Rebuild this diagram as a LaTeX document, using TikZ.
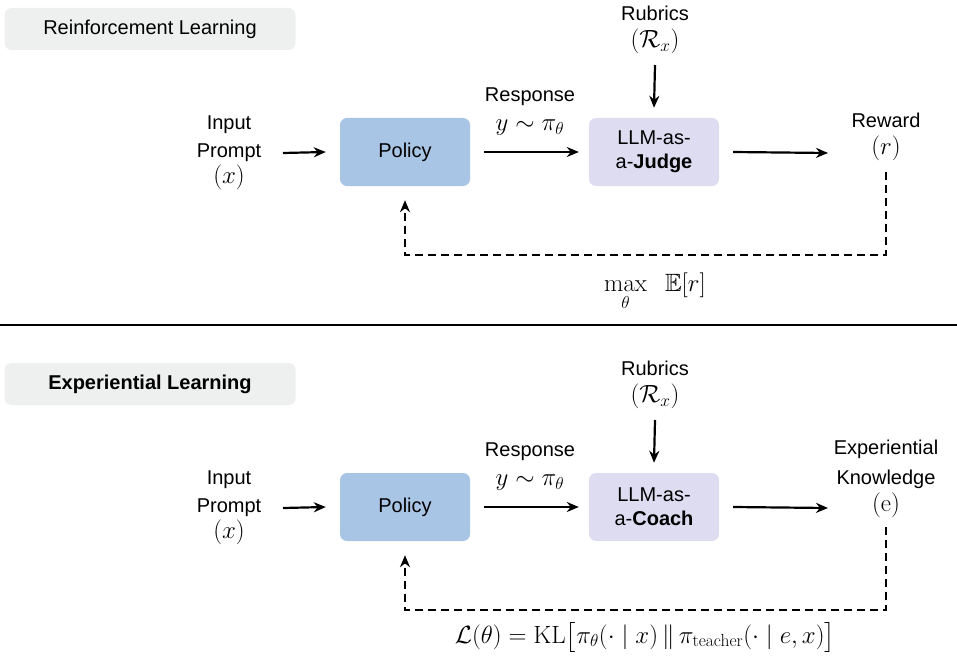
\documentclass[tikz,border=0pt]{standalone}
\usepackage{amsmath,amssymb}
\usepackage{fontspec}
\setmainfont{Liberation Sans}
\newfontfamily\lmr{Latin Modern Roman}
\newcommand{\mbig}{\fontsize{25}{28}\selectfont}
\usetikzlibrary{arrows.meta}
\definecolor{pblue}{HTML}{A9C5E6}
\definecolor{jlav}{HTML}{DDDCF1}
\definecolor{tagg}{HTML}{EEF0EF}
\begin{document}
\begin{tikzpicture}[x=1pt,y=-1pt,
  txt/.style={font=\fontsize{20}{24}\selectfont, align=center, inner sep=0},
  box/.style={rounded corners=7pt, minimum width=130pt, minimum height=68pt, txt},
  tag/.style={fill=tagg, rounded corners=7pt, minimum height=42pt, txt},
  arr/.style={-{Stealth[length=12pt,width=10pt]}, line width=2.2pt},
  dsh/.style={arr, dash pattern=on 8pt off 5pt}]
\useasboundingbox (0,0) rectangle (957,655);
% ---- top
\node[tag, minimum width=291pt] (t1) at (150,29) {Reinforcement Learning};
\node[txt] (in1) at (229,153) {Input\\[4pt]Prompt\\[2pt]{\mbig$(x)$}};
\node[box, fill=pblue] (p1) at (405,152) {Policy};
\node[box, fill=jlav] (j1) at (654,152) {LLM-as-\\a-\textbf{Judge}};
\node[txt] (rb1) at (655,30) {Rubrics\\[3pt]{\mbig$(\mathcal{R}_x)$}};
\node[txt] (rw1) at (886,137) {Reward\\[3pt]{\mbig$(r)$}};
\node[txt] (rs1) at (530,97) {Response};
\node[txt] (ys1) at (530,128) {\mbig$y\sim\pi_\theta$};
\draw[arr] (283,153) -- ([xshift=-14pt]p1.west);
\draw[arr] ([xshift=14pt]p1.east) -- ([xshift=-10pt]j1.west);
\draw[arr] (655,65) -- ([yshift=10pt]j1.north);
\draw[arr] ([xshift=14pt]j1.east) -- (828,153);
\coordinate (d1) at (886,255);
\coordinate (e1) at (405,255);
\draw[dsh] (886,172) -- (d1) -- (e1) -- ([yshift=-14pt]p1.south);
\node[txt] (m1) at (655,292) {\mbig$\mathop{\text{\lmr max}}\limits_{\theta}\;\;\mathbb{E}[r]$};
\draw[line width=1.4pt] (0,325) -- (957,325);
% ---- bottom
\node[tag, minimum width=291pt] (t2) at (150,384) {\textbf{Experiential Learning}};
\node[txt] (in2) at (229,508) {Input\\[4pt]Prompt\\[2pt]{\mbig$(x)$}};
\node[box, fill=pblue] (p2) at (405,507) {Policy};
\node[box, fill=jlav] (j2) at (654,507) {LLM-as-\\a-\textbf{Coach}};
\node[txt] (rb2) at (655,385) {Rubrics\\[3pt]{\mbig$(\mathcal{R}_x)$}};
\node[txt] (rw2) at (886,479) {Experiential\\[6pt]Knowledge\\[3pt]{\mbig\lmr (e)}};
\node[txt] (rs2) at (530,452) {Response};
\node[txt] (ys2) at (530,483) {\mbig$y\sim\pi_\theta$};
\draw[arr] (283,508) -- ([xshift=-14pt]p2.west);
\draw[arr] ([xshift=14pt]p2.east) -- ([xshift=-10pt]j2.west);
\draw[arr] (655,420) -- ([yshift=10pt]j2.north);
\draw[arr] ([xshift=14pt]j2.east) -- (828,508);
\coordinate (d2) at (886,610);
\coordinate (e2) at (405,610);
\draw[dsh] (886,527) -- (d2) -- (e2) -- ([yshift=-14pt]p2.south);
\node[txt] (m2) at (645,637) {\mbig$\mathcal{L}(\theta)=\text{\lmr KL}\big[\pi_\theta(\cdot\mid x)\,\|\,\pi_{\text{\lmr teacher}}(\cdot\mid e,x)\big]$};
\end{tikzpicture}
\end{document}
